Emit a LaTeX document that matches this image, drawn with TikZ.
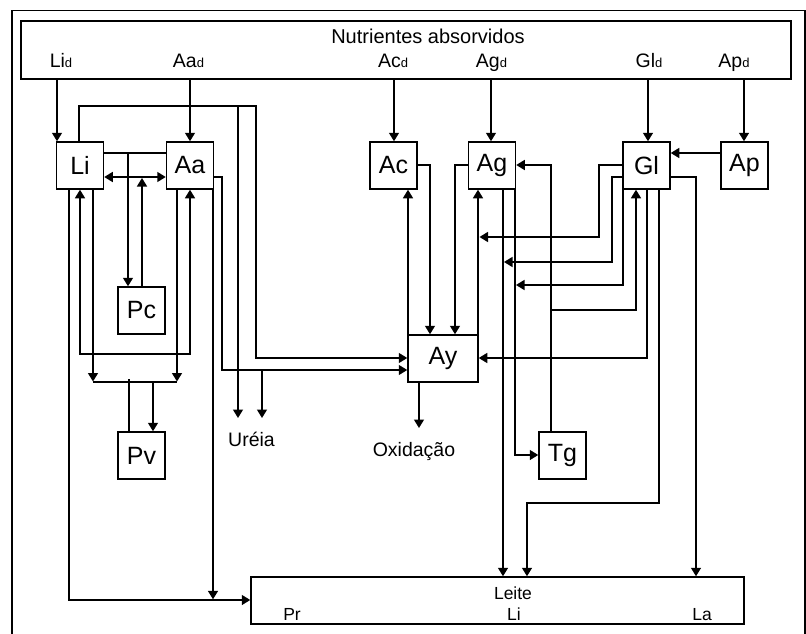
\documentclass[tikz,border=0pt]{standalone}
\usepackage{fontspec}
\setmainfont{Liberation Sans}
\usetikzlibrary{arrows.meta}
\tikzset{
  box/.style={draw, line width=1.5pt, minimum width=47pt, minimum height=47pt, inner sep=0pt, font=\fontsize{25}{25}\selectfont},
  bigbox/.style={draw, line width=1.5pt, inner sep=0pt},
  con/.style={line width=1.5pt},
  arr/.style={con, -{Triangle[length=8.5pt,width=10pt]}},
  arrb/.style={con, {Triangle[length=8.5pt,width=10pt]}-{Triangle[length=8.5pt,width=10pt]}},
  lbl/.style={anchor=base, inner sep=0pt, font=\fontsize{19.5}{19.5}\selectfont},
  sml/.style={anchor=base, inner sep=0pt, font=\fontsize{17.5}{17.5}\selectfont},
}
\newcommand\dsub[1]{#1{\fontsize{13}{13}\selectfont d}}
\begin{document}
\begin{tikzpicture}[x=1pt,y=-1pt]
\useasboundingbox (0,0) rectangle (806,634);
% outer frame
\draw[con] (12,634) -- (12,10.5) -- (805,10.5) -- (805,634);
% top box
\node[bigbox, minimum width=770pt, minimum height=58pt] (N) at (406,50) {};
\node[lbl, font=\fontsize{20}{20}\selectfont] (Nt) at (428,44) {Nutrientes absorvidos};
\node[lbl] (Lid) at (61,67.5) {\dsub{Li}};
\node[lbl] (Aad) at (188.5,67.5) {\dsub{Aa}};
\node[lbl] (Acd) at (393,67.5) {\dsub{Ac}};
\node[lbl] (Agd) at (491.5,67.5) {\dsub{Ag}};
\node[lbl] (Gld) at (649,67.5) {\dsub{Gl}};
\node[lbl] (Apd) at (734,67.5) {\dsub{Ap}};
% boxes
\node[box] (Li) at (80,165.5) {Li};
\node[box] (Aa) at (190,165.5) {Aa};
\node[box] (Ac) at (393.5,165.5) {Ac};
\node[box] (Ag) at (492,165.5) {Ag};
\node[box] (Gl) at (646.5,165.5) {Gl};
\node[box] (Ap) at (744.5,165.5) {Ap};
\node[box] (Pc) at (141.5,310.5) {Pc};
\node[box] (Pv) at (141.5,455.5) {Pv};
\node[box, minimum width=70pt] (Ay) at (443,358.5) {Ay};
\node[box] (Tg) at (562.5,455.5) {Tg};
% Leite box
\node[bigbox, minimum width=493pt, minimum height=47pt] (Le) at (497.5,600.5) {};
\node[sml] (Let) at (513,599) {Leite};
\node[sml] (LPr) at (292,620) {Pr};
\node[sml] (LLi) at (514,620) {Li};
\node[sml] (LLa) at (702,620) {La};
% free labels
\node[lbl] (Ur) at (251.5,446.5) {Uréia};
\node[lbl] (Ox) at (414,456.5) {Oxidação};
\coordinate (ur1) at (238,418);
\coordinate (ur2) at (262,418);
\coordinate (ox1) at (419,428);
% inputs from top box
\draw[arr] (N.south -| 57,0) -- (Li.north -| 57,0);
\draw[arr] (N.south -| 190,0) -- (Aa.north -| 190,0);
\draw[arr] (N.south -| 394,0) -- (Ac.north -| 394,0);
\draw[arr] (N.south -| 491,0) -- (Ag.north -| 491,0);
\draw[arr] (N.south -| 648,0) -- (Gl.north -| 648,0);
\draw[arr] (N.south -| 744,0) -- (Ap.north -| 744,0);
% Li -> Ay and branch to Ureia
\draw[arr] (Li.north -| 79,0) -- (79,106) -- (256,106) |- (Ay.west |- 0,358);
\draw[arr] (238,106) -- (ur1);
% Aa -> Ay and branch to Ureia
\draw[arr] (Aa.east |- 0,177) -| (222,370) -- (Ay.west |- 0,370);
\draw[arr] (262,370) -- (ur2);
% Aa -> Leite, Li -> Leite
\draw[arr] (Aa.south -| 213,0) -- (213,599.3);
\draw[arr] (Li.south -| 69,0) |- (Le.west |- 0,600);
% Li <-> Aa
\draw[arrb] (Li.east |- 0,177) -- (Aa.west |- 0,177);
% Li, Aa -> Pc
\draw[con] (Li.east |- 0,153) -- (Aa.west |- 0,153);
\draw[arr] (128,153) -- (Pc.north -| 128,0);
\draw[arr] (Pc.north -| 142,0) -- (142,178);
% loop back into Li and Aa
\draw[arrb] (Li.south -| 80,0) -- (80,354) -- (190,354) -- (Aa.south -| 190,0);
% Li, Aa -> Pv
\draw[arr] (Li.south -| 93,0) -- (93,381.5);
\draw[arr] (Aa.south -| 177,0) -- (177,381.5);
\draw[con] (93,382) -- (177,382);
\draw[con] (Pv.north -| 129,0) -- (129,378.5);
\draw[arr] (153,382) -- (Pv.north -| 153,0);
% Ac, Ag -> Ay ; Ay -> Ac, Ag
\draw[arr] (Ac.east |- 0,165) -| (Ay.north -| 430,0);
\draw[arr] (Ag.west |- 0,165) -| (Ay.north -| 455,0);
\draw[arr] (Ay.north -| 408,0) -- (Ac.south -| 408,0);
\draw[arr] (Ay.north -| 478,0) -- (Ag.south -| 478,0);
\draw[arr] (Ay.south -| 419,0) -- (ox1);
% Ag -> Leite, Ag -> Tg, Tg -> Ag, Tg -> Gl
\draw[arr] (Ag.south -| 503,0) -- (Le.north -| 503,0);
\draw[arr] (Ag.south -| 515,0) |- (Tg.west |- 0,455);
\draw[arr] (Tg.north -| 551,0) |- (Ag.east |- 0,165);
\draw[arr] (551,310) -| (Gl.south -| 636,0);
% Ap -> Gl
\draw[arr] (Ap.west |- 0,153) -- (Gl.east |- 0,153);
% Gl outputs
\draw[arr] (Gl.west |- 0,165) -| (599,237) -- (479.5,237);
\draw[arr] (Gl.west |- 0,177) -| (612,262) -- (504,262);
\draw[arr] (Gl.south -| 623,0) |- (516,285);
\draw[arr] (Gl.south -| 647,0) |- (Ay.east |- 0,358);
\draw[arr] (Gl.south -| 659,0) |- (527,503) -- (Le.north -| 527,0);
\draw[arr] (Gl.east |- 0,177) -| (Le.north -| 696,0);
\end{tikzpicture}
\end{document}
